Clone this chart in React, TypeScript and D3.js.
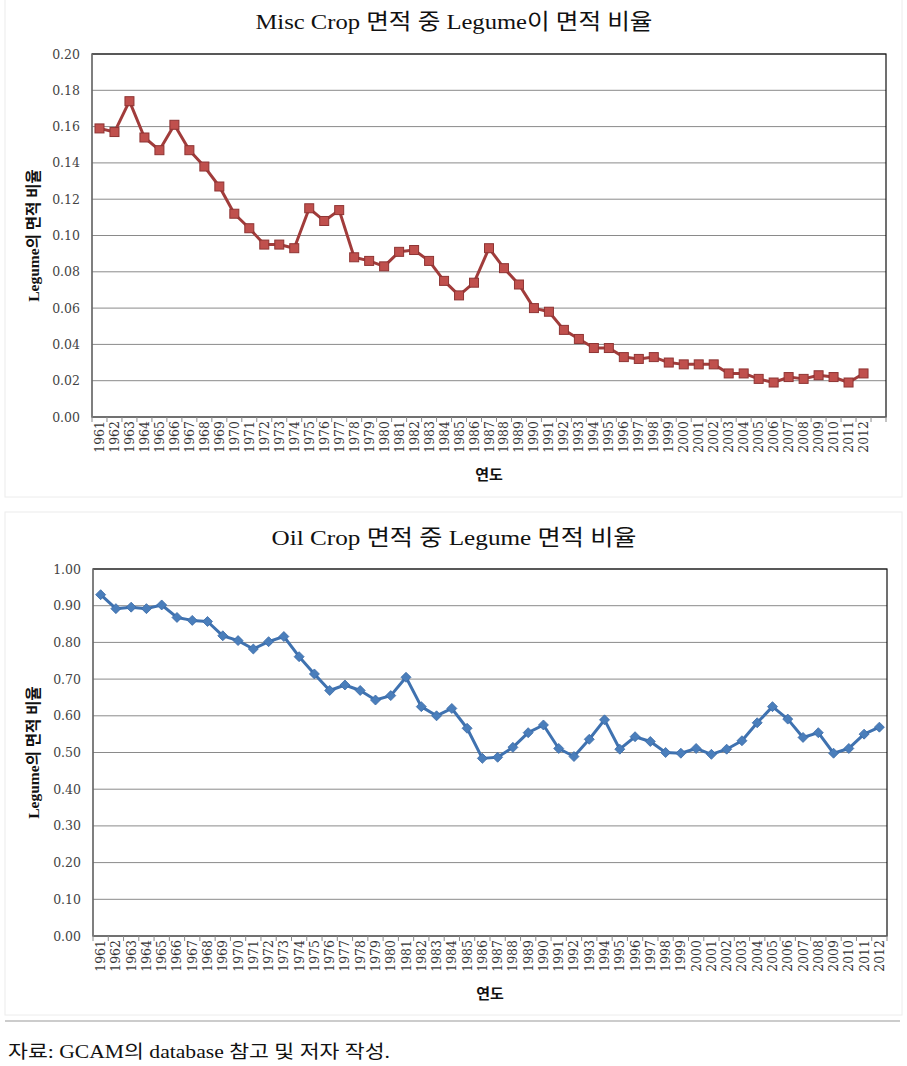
import React from 'react';
import * as d3 from 'd3';

const years = [
  '1961', '1962', '1963', '1964', '1965', '1966', '1967', '1968', '1969', '1970',
  '1971', '1972', '1973', '1974', '1975', '1976', '1977', '1978', '1979', '1980',
  '1981', '1982', '1983', '1984', '1985', '1986', '1987', '1988', '1989', '1990',
  '1991', '1992', '1993', '1994', '1995', '1996', '1997', '1998', '1999', '2000',
  '2001', '2002', '2003', '2004', '2005', '2006', '2007', '2008', '2009', '2010',
  '2011', '2012',
];

const miscLegumeShare = [
  0.159, 0.157, 0.174, 0.154, 0.147, 0.161, 0.147, 0.138, 0.127, 0.112,
  0.104, 0.095, 0.095, 0.093, 0.115, 0.108, 0.114, 0.088, 0.086, 0.083,
  0.091, 0.092, 0.086, 0.075, 0.067, 0.074, 0.093, 0.082, 0.073, 0.060,
  0.058, 0.048, 0.043, 0.038, 0.038, 0.033, 0.032, 0.033, 0.030, 0.029,
  0.029, 0.029, 0.024, 0.024, 0.021, 0.019, 0.022, 0.021, 0.023, 0.022,
  0.019, 0.024,
];

const oilLegumeShare = [
  0.930, 0.892, 0.896, 0.892, 0.902, 0.868, 0.860, 0.857, 0.818, 0.805,
  0.782, 0.802, 0.816, 0.761, 0.714, 0.669, 0.684, 0.669, 0.643, 0.655,
  0.705, 0.625, 0.600, 0.620, 0.566, 0.484, 0.487, 0.514, 0.554, 0.575,
  0.511, 0.489, 0.536, 0.589, 0.509, 0.543, 0.530, 0.500, 0.498, 0.511,
  0.495, 0.509, 0.532, 0.581, 0.625, 0.591, 0.541, 0.554, 0.498, 0.511,
  0.550, 0.569,
];

const miscTicks = [0, 0.02, 0.04, 0.06, 0.08, 0.1, 0.12, 0.14, 0.16, 0.18, 0.2];
const oilTicks = [0, 0.1, 0.2, 0.3, 0.4, 0.5, 0.6, 0.7, 0.8, 0.9, 1.0];

const miscTitle = 'Misc Crop 면적 중 Legume이 면적 비율';
const oilTitle = 'Oil Crop 면적 중 Legume 면적 비율';
const yTitle = 'Legume의 면적 비율';
const xTitle = '연도';
const sourceNote = '자료: GCAM의 database 참고 및 저자 작성.';

const NUMFONT = "'DejaVu Serif', 'Liberation Serif', serif";
const KFONT = "'Liberation Serif', 'Noto Sans CJK KR', serif";

type ChartProps = {
  title: string;
  titleY: number;
  titleW: number;
  values: number[];
  ticks: number[];
  slots: string[];
  left: number;
  right: number;
  top: number;
  bottom: number;
  lineColor: string;
  markerFill: string;
  markerStroke: string;
  marker: 'square' | 'diamond';
  lineWidth: number;
};

function Chart(p: ChartProps) {
  const x = d3.scaleBand<string>().domain(p.slots).range([p.left, p.right]).padding(0);
  const y = d3.scaleLinear().domain([p.ticks[0], p.ticks[p.ticks.length - 1]]).range([p.bottom, p.top]);
  const pts = years.map((yr, i) => [x(yr)! + x.bandwidth() / 2, y(p.values[i])] as [number, number]);
  const line = d3.line().curve(d3.curveLinear)(pts) || '';
  const fmt = d3.format('.2f');
  const boundaries = p.slots.map((s) => x(s)!).concat([p.right]);
  const midX = (p.left + p.right) / 2;
  const midY = (p.top + p.bottom) / 2;
  return (
    <g>
      <text x={454} y={p.titleY} textAnchor="middle" fontFamily={KFONT}
        fontSize={22} fill="#111" textLength={p.titleW} lengthAdjust="spacingAndGlyphs">{p.title}</text>
      {p.ticks.map((t) => (
        <line key={'g' + t} x1={p.left} x2={p.right} y1={y(t)} y2={y(t)} stroke="#8a8a8a" strokeWidth={1} />
      ))}
      <rect x={p.left} y={p.top} width={p.right - p.left} height={p.bottom - p.top} fill="none" stroke="#111" strokeWidth={1.2} />
      <line x1={p.left} x2={p.left} y1={p.top} y2={p.bottom} stroke="#8a8a8a" strokeWidth={1.2} />
      <line x1={p.left} x2={p.right} y1={p.bottom} y2={p.bottom} stroke="#8a8a8a" strokeWidth={1.2} />
      {boundaries.map((bx, i) => (
        <line key={'t' + i} x1={bx} x2={bx} y1={p.bottom} y2={p.bottom + 5} stroke="#8a8a8a" strokeWidth={1} />
      ))}
      {p.ticks.map((t) => (
        <text key={'yl' + t} x={p.left - 12} y={y(t) + 4.5} textAnchor="end" fontFamily={NUMFONT}
          fontSize={12.5} fill="#444">{fmt(t)}</text>
      ))}
      {p.slots.map((s) => (
        <text key={'xl' + s} transform={`translate(${x(s)! + x.bandwidth() / 2 + 4.5},${p.bottom + 4}) rotate(-90)`}
          textAnchor="end" fontFamily={NUMFONT} fontSize={12.5} fill="#333">{years.includes(s) ? s : ''}</text>
      ))}
      <text transform={`translate(${39},${midY}) rotate(-90)`} textAnchor="middle" fontFamily={KFONT}
        fontWeight="bold" fontSize={15.5} fill="#111">{yTitle}</text>
      <text x={midX} y={p.bottom + 63} textAnchor="middle" fontFamily={KFONT} fontWeight="bold" fontSize={15} fill="#111">{xTitle}</text>
      <path d={line} fill="none" stroke={p.lineColor} strokeWidth={p.lineWidth} strokeLinejoin="round" />
      {pts.map(([px, py], i) => (
        p.marker === 'square' ? (
          <rect key={'m' + i} x={px - 4.5} y={py - 4.5} width={9} height={9} fill={p.markerFill} stroke={p.markerStroke} strokeWidth={1} />
        ) : (
          <path key={'m' + i} d={`M${px},${py - 5}L${px + 5},${py}L${px},${py + 5}L${px - 5},${py}Z`} fill={p.markerFill} stroke={p.markerStroke} strokeWidth={0.8} />
        )
      ))}
    </g>
  );
}

export default function App() {
  const topSlots = years.concat(['']);
  return (
    <svg width={907} height={1066} style={{ position: 'absolute', left: 0, top: 0, background: '#fff' }}>
      <rect x={5} y={-2} width={897} height={499} fill="#fff" stroke="#ececec" strokeWidth={1} />
      <rect x={5} y={512} width={897} height={503} fill="#fff" stroke="#ececec" strokeWidth={1} />
      <Chart title={miscTitle} titleY={29} titleW={397} values={miscLegumeShare} ticks={miscTicks} slots={topSlots}
        left={92} right={886} top={54} bottom={417} lineColor="#a13c3b" markerFill="#c0504d" markerStroke="#8e3433"
        marker="square" lineWidth={3} />
      <Chart title={oilTitle} titleY={545} titleW={365} values={oilLegumeShare} ticks={oilTicks} slots={years}
        left={93} right={887} top={569} bottom={936} lineColor="#3f72b0" markerFill="#4a7ebb" markerStroke="#3a6aa6"
        marker="diamond" lineWidth={3} />
      <line x1={5} x2={900} y1={1021} y2={1021} stroke="#9a9a9a" strokeWidth={1.2} />
      <text x={8} y={1058} fontFamily={KFONT} fontSize={18} fill="#111" textLength={382} lengthAdjust="spacingAndGlyphs">{sourceNote}</text>
    </svg>
  );
}
